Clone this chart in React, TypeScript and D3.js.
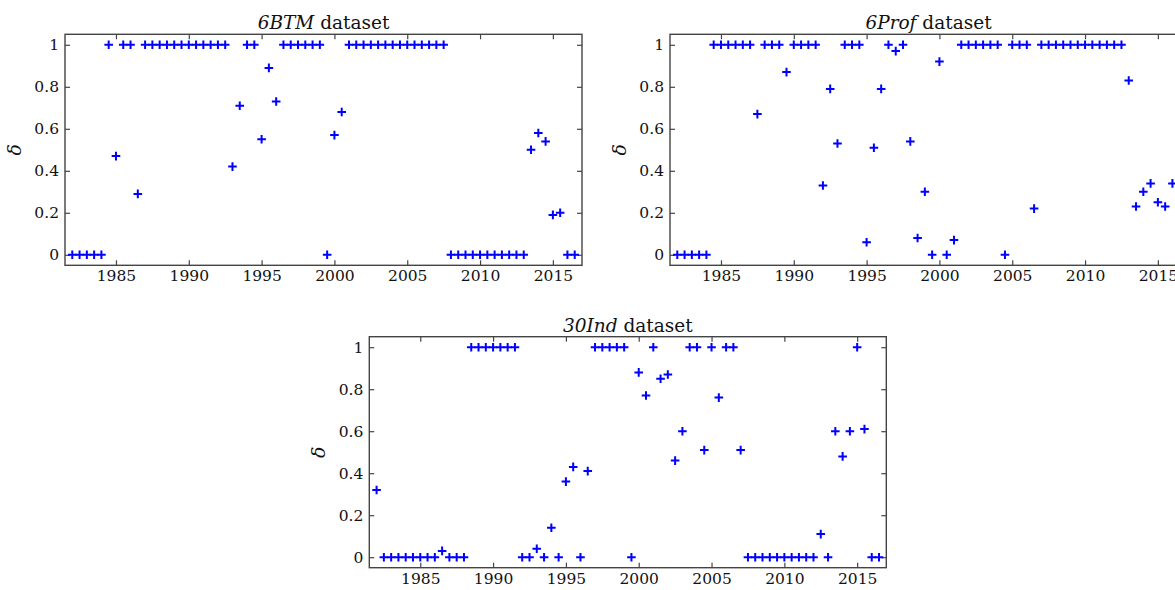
import React, { useEffect, useRef } from 'react';
import * as d3 from 'd3';

// half-year observation dates, 1982 .. 2016.5
const periods = [
  1982, 1982.5, 1983, 1983.5, 1984, 1984.5, 1985, 1985.5, 1986, 1986.5,
  1987, 1987.5, 1988, 1988.5, 1989, 1989.5, 1990, 1990.5, 1991, 1991.5,
  1992, 1992.5, 1993, 1993.5, 1994, 1994.5, 1995, 1995.5, 1996, 1996.5,
  1997, 1997.5, 1998, 1998.5, 1999, 1999.5, 2000, 2000.5, 2001, 2001.5,
  2002, 2002.5, 2003, 2003.5, 2004, 2004.5, 2005, 2005.5, 2006, 2006.5,
  2007, 2007.5, 2008, 2008.5, 2009, 2009.5, 2010, 2010.5, 2011, 2011.5,
  2012, 2012.5, 2013, 2013.5, 2014, 2014.5, 2015, 2015.5, 2016, 2016.5,
];

const btm = [
  0, 0, 0, 0, 0, 1, 0.47, 1, 1, 0.29,
  1, 1, 1, 1, 1, 1, 1, 1, 1, 1,
  1, 1, 0.42, 0.71, 1, 1, 0.55, 0.89, 0.73, 1,
  1, 1, 1, 1, 1, 0, 0.57, 0.68, 1, 1,
  1, 1, 1, 1, 1, 1, 1, 1, 1, 1,
  1, 1, 0, 0, 0, 0, 0, 0, 0, 0,
  0, 0, 0, 0.5, 0.58, 0.54, 0.19, 0.2, 0, 0,
];

const prof = [
  0, 0, 0, 0, 0, 1, 1, 1, 1, 1,
  1, 0.67, 1, 1, 1, 0.87, 1, 1, 1, 1,
  0.33, 0.79, 0.53, 1, 1, 1, 0.06, 0.51, 0.79, 1,
  0.97, 1, 0.54, 0.08, 0.3, 0, 0.92, 0, 0.07, 1,
  1, 1, 1, 1, 1, 0, 1, 1, 1, 0.22,
  1, 1, 1, 1, 1, 1, 1, 1, 1, 1,
  1, 1, 0.83, 0.23, 0.3, 0.34, 0.25, 0.23, 0.34, 0.34,
];

const ind = [
  0.32, 0, 0, 0, 0, 0, 0, 0, 0, 0.03,
  0, 0, 0, 1, 1, 1, 1, 1, 1, 1,
  0, 0, 0.04, 0, 0.14, 0, 0.36, 0.43, 0, 0.41,
  1, 1, 1, 1, 1, 0, 0.88, 0.77, 1, 0.85,
  0.87, 0.46, 0.6, 1, 1, 0.51, 1, 0.76, 1, 1,
  0.51, 0, 0, 0, 0, 0, 0, 0, 0, 0,
  0, 0.11, 0, 0.6, 0.48, 0.6, 1, 0.61, 0, 0,
];

const xTicks = [1985, 1990, 1995, 2000, 2005, 2010, 2015];
const yTicks = [0, 0.2, 0.4, 0.6, 0.8, 1];

const panels = [
  { name: '6BTM', values: btm, left: 65, top: 34.3 },
  { name: '6Prof', values: prof, left: 670, top: 34.3 },
  { name: '30Ind', values: ind, left: 369.3, top: 336.7 },
];

const FONT = 'DejaVu Serif';

const App = () => {
  const ref = useRef<SVGSVGElement>(null);

  useEffect(() => {
    const svg = d3.select(ref.current);
    svg.selectAll('*').remove();

    const w = 517;
    const h = 231;

    panels.forEach((p) => {
      const g = svg.append('g').attr('transform', `translate(${p.left},${p.top})`);
      const x = d3.scaleLinear().domain([1981.5, 2017]).range([0, w]);
      const y = d3.scaleLinear().domain([-0.05, 1.05]).range([h, 0]);

      const styleAxis = (a) => {
        a.attr('font-family', FONT).attr('font-size', 15.5);
        a.select('.domain').remove();
        a.selectAll('line').attr('stroke', '#444').attr('stroke-width', 1.2);
        a.selectAll('text').attr('fill', '#111');
      };

      g.append('g').attr('transform', `translate(0,${h})`)
        .call(d3.axisBottom(x).tickValues(xTicks).tickSizeInner(-5).tickSizeOuter(0).tickPadding(5).tickFormat(d3.format('d')))
        .call(styleAxis);
      g.append('g')
        .call(d3.axisTop(x).tickValues(xTicks).tickSizeInner(-5).tickSizeOuter(0).tickFormat(() => ''))
        .call(styleAxis);
      g.append('g')
        .call(d3.axisLeft(y).tickValues(yTicks).tickSizeInner(-5).tickSizeOuter(0).tickPadding(6)
          .tickFormat((d) => (d === 0 || d === 1 ? String(d) : d3.format('.1f')(d))))
        .call(styleAxis);
      g.append('g').attr('transform', `translate(${w},0)`)
        .call(d3.axisRight(y).tickValues(yTicks).tickSizeInner(-5).tickSizeOuter(0).tickFormat(() => ''))
        .call(styleAxis);

      g.append('rect')
        .attr('width', w).attr('height', h)
        .attr('fill', 'none').attr('stroke', '#444').attr('stroke-width', 1.4);

      // markers
      const s = 4.3;
      g.append('g').selectAll('path')
        .data(p.values)
        .enter()
        .append('path')
        .attr('d', (d, i) => {
          const cx = x(periods[i]);
          const cy = y(d);
          return `M${cx - s},${cy}H${cx + s}M${cx},${cy - s}V${cy + s}`;
        })
        .attr('stroke', '#0000ff')
        .attr('stroke-width', 2);

      // title
      const t = g.append('text')
        .attr('x', w / 2).attr('y', -5)
        .attr('text-anchor', 'middle')
        .attr('font-family', FONT).attr('font-size', 18.5)
        .attr('fill', '#111');
      t.append('tspan').attr('font-style', 'italic').text(p.name);
      t.append('tspan').text('\u00a0dataset');

      // y label
      g.append('text')
        .attr('transform', `translate(-44,${y(0.5)}) rotate(-90)`)
        .attr('text-anchor', 'middle')
        .attr('font-family', FONT).attr('font-size', 19).attr('font-style', 'italic')
        .attr('fill', '#111')
        .text('δ');
    });
  }, []);

  return (
    <div style={{ position: 'absolute', left: 0, top: 0, background: '#fff' }}>
      <svg ref={ref} width={1175} height={590} />
    </div>
  );
};

export default App;
